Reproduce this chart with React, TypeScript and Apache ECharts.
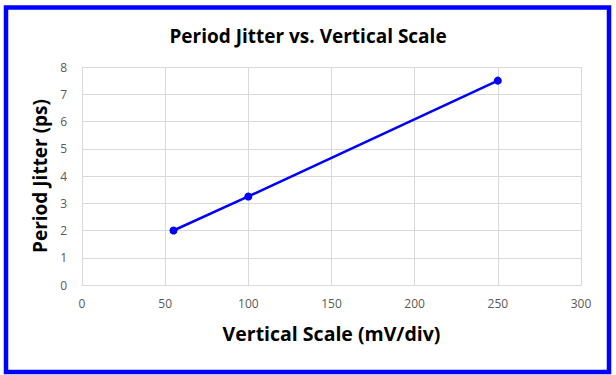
import React, { useEffect, useRef } from "react";
import * as echarts from "echarts";

const xValues = [55, 100, 250];
const yValues = [2.0, 3.25, 7.5];
const titleText = "Period Jitter vs. Vertical Scale";
const xAxisName = "Vertical Scale (mV/div)";
const yAxisName = "Period Jitter (ps)";

export default function App() {
  const ref = useRef<HTMLDivElement>(null);
  useEffect(() => {
    document.body.style.margin = "0";
    const chart = echarts.init(ref.current!, null, { renderer: "svg" });
    const font = "'Open Sans', 'DejaVu Sans', sans-serif";
    chart.setOption({
      animation: false,
      backgroundColor: "#ffffff",
      title: {
        text: titleText,
        left: "center",
        top: 21,
        textStyle: { fontFamily: font, fontSize: 19, fontWeight: "bold", color: "#000000" },
      },
      grid: { left: 82, right: 35, top: 67, bottom: 90 },
      xAxis: {
        type: "value",
        min: 0,
        max: 300,
        interval: 50,
        name: xAxisName,
        nameLocation: "middle",
        nameGap: 38,
        nameTextStyle: { fontFamily: font, fontSize: 19.5, fontWeight: "bold", color: "#000000" },
        axisLine: { show: true, lineStyle: { color: "#d9d9d9", width: 1 } },
        axisTick: { show: false },
        axisLabel: { fontFamily: font, fontSize: 12, color: "#595959", margin: 12 },
        splitLine: { show: true, lineStyle: { color: "#d9d9d9", width: 1 } },
      },
      yAxis: {
        type: "value",
        min: 0,
        max: 8,
        interval: 1,
        name: yAxisName,
        nameLocation: "middle",
        nameGap: 30,
        nameTextStyle: { fontFamily: font, fontSize: 19, fontWeight: "bold", color: "#000000" },
        axisLine: { show: true, lineStyle: { color: "#d9d9d9", width: 1 } },
        axisTick: { show: false },
        axisLabel: { fontFamily: font, fontSize: 12, color: "#595959", margin: 15 },
        splitLine: { show: true, lineStyle: { color: "#d9d9d9", width: 1 } },
      },
      series: [
        {
          type: "line",
          data: xValues.map((x, i) => [x, yValues[i]]),
          symbol: "circle",
          symbolSize: 8,
          lineStyle: { color: "#0000ff", width: 2.5 },
          itemStyle: { color: "#0000ff" },
        },
      ],
      graphic: [
        {
          type: "rect",
          shape: { x: 6, y: 7.5, width: 603, height: 364.5 },
          style: { fill: "none", stroke: "#0000ff", lineWidth: 4.5 },
          silent: true,
        },
      ],
    });
    return () => chart.dispose();
  }, []);
  return <div ref={ref} style={{ position: "absolute", left: 0, top: 0, width: 616, height: 375 }} />;
}
